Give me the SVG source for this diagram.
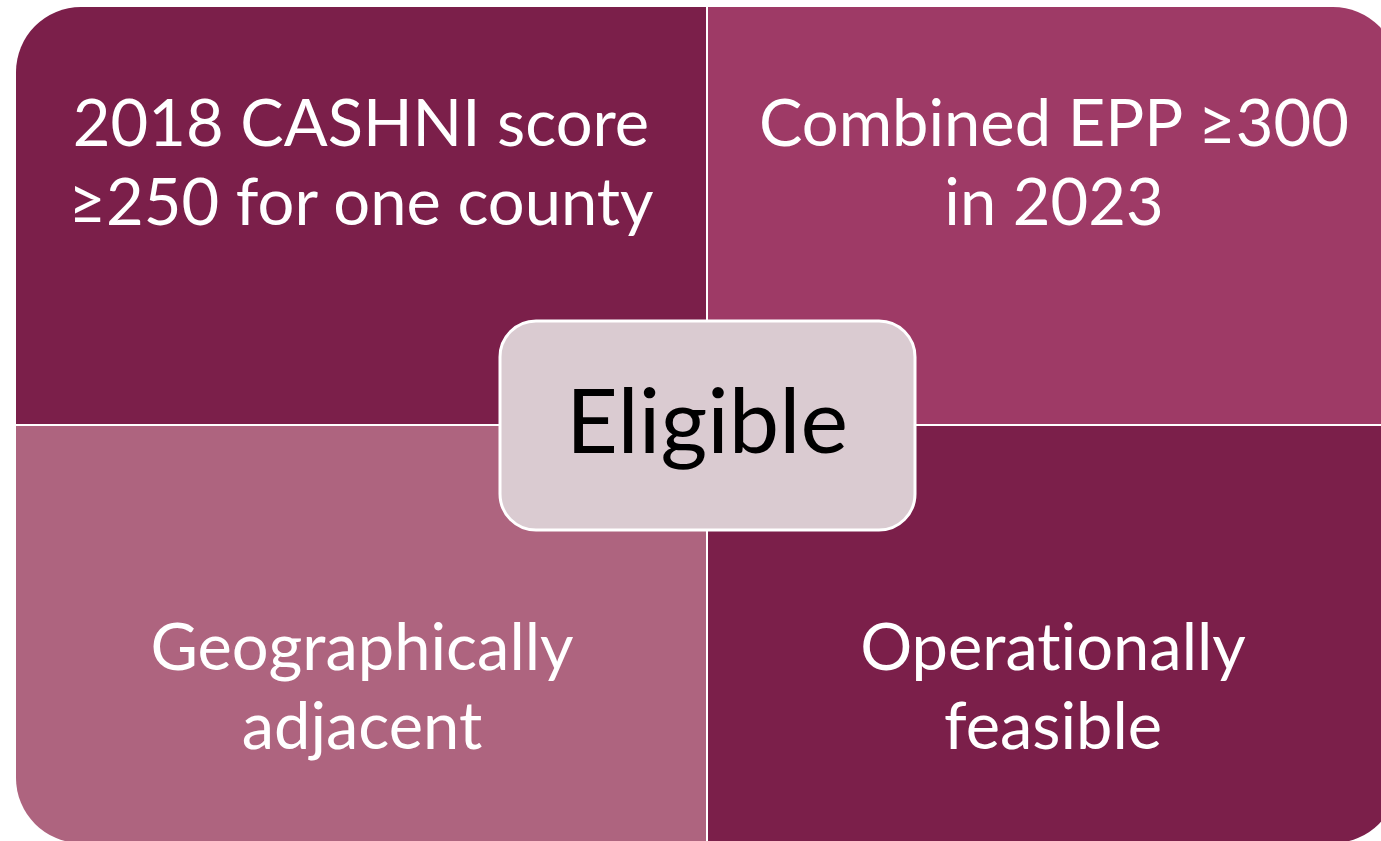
<svg xmlns="http://www.w3.org/2000/svg" width="1381" height="841" viewBox="0 0 1381 841">
<defs>
<style>
.q{stroke:none}
.t{font-family:Lato,"Open Sans","Liberation Sans",sans-serif;font-size:65px;fill:#ffffff;text-anchor:middle;font-variant-ligatures:none;font-feature-settings:"liga" 0}
.c{font-family:Lato,"Open Sans","Liberation Sans",sans-serif;font-size:90px;fill:#000000;text-anchor:middle}
</style>
</defs>
<rect width="1381" height="841" fill="#ffffff"/>
<g id="q-tl">
<path class="q" fill="#7B1F4A" d="M16,72 A65,65 0 0 1 81,7 L706,7 L706,424 L16,424 Z"/>
<text class="t" x="361" y="146">2018 CASHNI score</text>
<text class="t" x="361" y="225">≥250 for one county</text>
</g>
<g id="q-tr">
<path class="q" fill="#9E3A66" d="M708,7 L1333,7 A65,65 0 0 1 1398,72 L1398,424 L708,424 Z"/>
<text class="t" x="1054" y="146">Combined EPP ≥300</text>
<text class="t" x="1054" y="225">in 2023</text>
</g>
<g id="q-bl">
<path class="q" fill="#AE647F" d="M16,426 L706,426 L706,843 L81,843 A65,65 0 0 1 16,778 Z"/>
<text class="t" x="362" y="670">Geographically</text>
<text class="t" x="362" y="749">adjacent</text>
</g>
<g id="q-br">
<path class="q" fill="#7B1F4A" d="M708,426 L1398,426 L1398,778 A65,65 0 0 1 1333,843 L708,843 Z"/>
<text class="t" x="1053" y="670">Operationally</text>
<text class="t" x="1053" y="749">feasible</text>
</g>
<g id="connectors"></g>
<g id="center">
<rect x="500" y="321" width="415" height="209" rx="36" ry="36" fill="#DACBD1" stroke="#ffffff" stroke-width="3"/>
<text class="c" x="707" y="453">Eligible</text>
</g>
</svg>
